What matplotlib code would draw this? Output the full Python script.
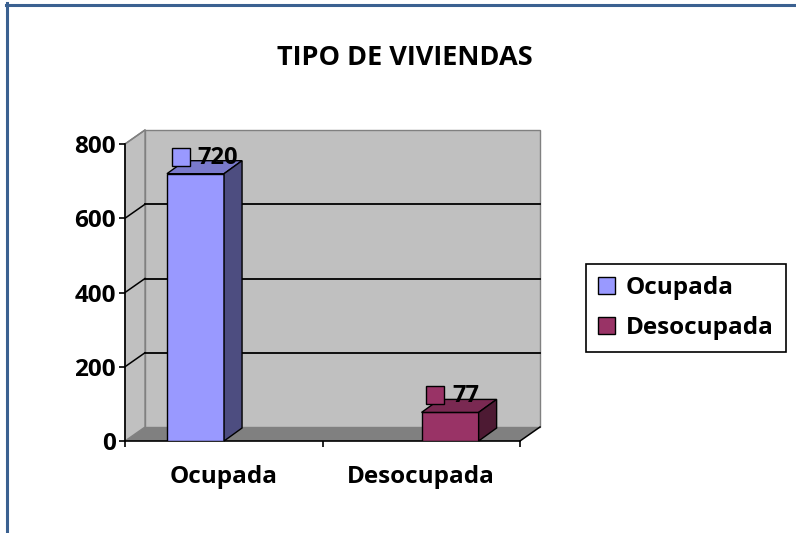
import numpy as np
import matplotlib.pyplot as plt
from matplotlib.patches import Polygon, Patch
from matplotlib.lines import Line2D
from matplotlib.transforms import offset_copy

plt.rcParams['font.family'] = ['Open Sans', 'DejaVu Sans']
plt.rcParams['font.weight'] = 'bold'

# Datos
categorias = ["Ocupada", "Desocupada"]
valores = [720, 77]
titulo = "TIPO DE VIVIENDAS"
yticks = [0, 200, 400, 600, 800]

# Colores (frente, tapa, lateral)
c_frente = ["#9999ff", "#993366"]
c_tapa = ["#7a7acc", "#7a2952"]
c_lado = ["#4d4d80", "#4d1a33"]

W, H = 796, 533
fig = plt.figure(figsize=(W / 100, H / 100), dpi=100)
ax = fig.add_axes([125 / W, (H - 441) / H, (520 - 125) / W, (441 - 144) / H])
ax.set_xlim(0, 2)
ax.set_ylim(0, 800)
ax.patch.set_visible(False)

# pixeles -> unidades de datos
kx = 2 / 395
ky = 800 / 297
dxw, dyw = 20 * kx, 14 * ky   # profundidad de las paredes
dxb, dyb = 18 * kx, 13 * ky   # profundidad de las barras

# Paredes y piso
ax.add_patch(Polygon([(0, 0), (2, 0), (2 + dxw, dyw), (dxw, dyw)],
                     closed=True, fc="#808080", ec="none", zorder=0, clip_on=False))
ax.add_patch(Polygon([(dxw, dyw), (2 + dxw, dyw), (2 + dxw, 800 + dyw), (dxw, 800 + dyw)],
                     closed=True, fc="#c0c0c0", ec="#808080", lw=1, zorder=0, clip_on=False))
ax.add_patch(Polygon([(0, 0), (dxw, dyw), (dxw, 800 + dyw), (0, 800)],
                     closed=True, fc="#c0c0c0", ec="#808080", lw=1, zorder=0, clip_on=False))

# Lineas de division
for t in yticks[1:]:
    col = "black" if t < 800 else "#808080"
    if t < 800:
        ax.plot([dxw, 2 + dxw], [t + dyw, t + dyw], color="black", lw=1.3, zorder=1, clip_on=False)
    ax.plot([0, dxw], [t, t + dyw], color=col, lw=1.1, zorder=1, clip_on=False)
ax.plot([2, 2 + dxw], [0, dyw], color="black", lw=1.1, zorder=1, clip_on=False)

# Barras
x = 0.357 + np.arange(len(categorias)) * 1.289
w = 0.289
ax.bar(x, valores, width=w, color=c_frente, edgecolor="black", lw=1, zorder=3)
for i, v in enumerate(valores):
    xl, xr = x[i] - w / 2, x[i] + w / 2
    ax.add_patch(Polygon([(xl, v), (xr, v), (xr + dxb, v + dyb), (xl + dxb, v + dyb)],
                         closed=True, fc=c_tapa[i], ec="black", lw=1, zorder=3, clip_on=False))
    ax.add_patch(Polygon([(xr, 0), (xr + dxb, dyb), (xr + dxb, v + dyb), (xr, v)],
                         closed=True, fc=c_lado[i], ec="black", lw=1, zorder=3, clip_on=False))
    # etiqueta de datos
    tr = offset_copy(ax.transData, fig=fig, x=-10.8, y=12.2, units="points")
    ax.plot([x[i]], [v], marker="s", ms=13.5, mfc=c_frente[i], mec="black", mew=1,
            transform=tr, zorder=5, clip_on=False)
    ax.annotate(str(v), (x[i], v), xytext=(1.5, 11.5), textcoords="offset points",
                ha="left", va="center", fontsize=17, fontweight="bold", zorder=6,
                annotation_clip=False)

# Ejes
for s in ["top", "right"]:
    ax.spines[s].set_visible(False)
ax.spines["left"].set_linewidth(1.2)
ax.spines["bottom"].set_linewidth(1.2)
ax.set_yticks(yticks)
ax.set_yticklabels([str(t) for t in yticks], fontsize=17.5, fontweight="bold")
ax.tick_params(axis="y", length=4, width=1.2, pad=2.5)
ax.set_xticks([0, 1, 2])
ax.set_xticklabels([])
ax.tick_params(axis="x", which="major", length=4.5, width=1.2)
ax.set_xticks([0.5, 1.5], minor=True)
ax.set_xticklabels(categorias, minor=True, fontsize=17.5, fontweight="bold")
ax.tick_params(axis="x", which="minor", length=0, pad=17)

# Titulo
fig.text(405 / W, (H - 58) / H, titulo, ha="center", va="center",
         fontsize=19.5, fontweight="bold")

# Leyenda
handles = [Patch(fc=c_frente[i], ec="black", lw=1) for i in range(len(categorias))]
leg = fig.legend(handles, categorias, loc="center left",
                 bbox_to_anchor=(586 / W, (H - 308) / H), fontsize=17.5,
                 handlelength=0.68, handleheight=0.68, handletextpad=0.45,
                 labelspacing=0.68, borderpad=0.5, borderaxespad=0,
                 fancybox=False, framealpha=1)
leg.get_frame().set_edgecolor("black")
leg.get_frame().set_linewidth(1.2)

# Borde azul
fig.add_artist(Line2D([6 / W, 1], [1 - 4.5 / H, 1 - 4.5 / H], color="#3b6191", lw=2.2))
fig.add_artist(Line2D([7.5 / W, 7.5 / W], [0, 1 - 3 / H], color="#3b6191", lw=2.2))

fig.savefig("out.png", dpi=100)
